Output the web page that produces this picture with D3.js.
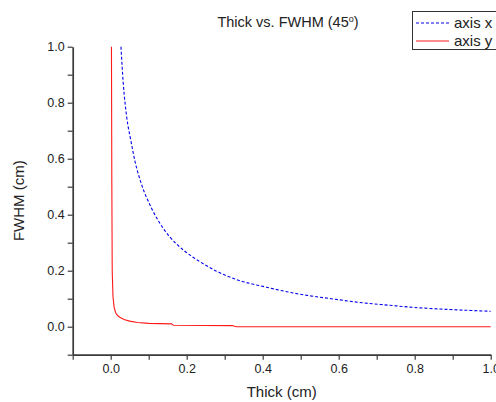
<!DOCTYPE html>
<html><head><meta charset="utf-8">
<script src="https://cdn.jsdelivr.net/npm/d3@7"></script>
<style>body{margin:0;background:#fff;} svg{display:block;font-family:"Liberation Sans",Arial,sans-serif;}</style>
</head><body>
<svg id="c" width="496" height="402"></svg>
<script>
const blueX = [0.027,0.033,0.042,0.053,0.064,0.082,0.105,0.13,0.156,0.191,0.235,0.279,0.332,0.41,0.498,0.58,0.665,0.73,0.796,0.9,1.0];
const blueY = [1.0,0.87,0.75,0.665,0.59,0.505,0.43,0.368,0.32,0.274,0.232,0.198,0.168,0.141,0.116,0.10,0.085,0.077,0.069,0.061,0.055];
const redX = [0.002,0.003,0.004,0.006,0.009,0.013,0.018,0.024,0.035,0.05,0.07,0.1,0.16,0.165,0.32,0.33,1.0];
const redY = [1.0,0.5,0.2,0.107,0.07,0.05,0.04,0.034,0.026,0.02,0.015,0.012,0.01,0.005,0.004,0.0,0.0];
const tickVals = [-0.1,0,0.1,0.2,0.3,0.4,0.5,0.6,0.7,0.8,0.9,1.0];
const labelVals = [0,0.2,0.4,0.6,0.8,1.0];
const seriesNames = ["axis x","axis y"];

const svg = d3.select("#c");
const x = d3.scaleLinear().domain([-0.1,1.0]).range([72.7,490.7]);
const y = d3.scaleLinear().domain([-0.1,1.0]).range([354.7,46.7]);
const fmt = d => labelVals.some(v=>Math.abs(v-d)<1e-9) ? d3.format(".1f")(d) : "";

const xa = svg.append("g").attr("transform",`translate(0,${y(-0.1)})`)
  .call(d3.axisBottom(x).tickValues(tickVals).tickFormat(fmt).tickSize(5).tickSizeOuter(0).tickPadding(4));
const ya = svg.append("g").attr("transform",`translate(${x(-0.1)},0)`)
  .call(d3.axisLeft(y).tickValues(tickVals).tickFormat(fmt).tickSize(5).tickSizeOuter(0).tickPadding(3));
[xa,ya].forEach(g=>{
  g.select(".domain").attr("stroke","#3a3a3a").attr("stroke-width",1.7);
  g.selectAll(".tick line").attr("stroke","#3a3a3a").attr("stroke-width",1.2);
  g.selectAll("text").attr("fill","#222").style("font-size","12.5px").style("font-family","Liberation Sans, Arial, sans-serif");
});

const lineSmooth = d3.line().x(d=>x(d[0])).y(d=>y(d[1])).curve(d3.curveMonotoneX);
const line = d3.line().x(d=>x(d[0])).y(d=>y(d[1]));
svg.append("path").datum(blueX.map((v,i)=>[v,blueY[i]]))
  .attr("d",lineSmooth).attr("fill","none").attr("stroke","#0000ee").attr("stroke-width",1.1).attr("stroke-dasharray","3,2");
svg.append("path").datum(redX.map((v,i)=>[v,redY[i]]))
  .attr("d",line).attr("fill","none").attr("stroke","#ff1a1a").attr("stroke-width",1.1);

// title
const t = svg.append("text").attr("x",288).attr("y",27).attr("text-anchor","middle")
  .style("font-size","14.5px").attr("fill","#222");
t.append("tspan").text("Thick vs. FWHM (45");
t.append("tspan").text("o").attr("dy",-5).style("font-size","9px");
t.append("tspan").text(")").attr("dy",5);

// axis titles
svg.append("text").attr("x",x(0.45)).attr("y",397).attr("text-anchor","middle")
  .style("font-size","15px").attr("fill","#222").text("Thick (cm)");
svg.append("text").attr("transform",`translate(24,${y(0.45)}) rotate(-90)`).attr("text-anchor","middle")
  .style("font-size","15px").attr("fill","#222").text("FWHM (cm)");

// legend
const lg = svg.append("g");
lg.append("rect").attr("x",412.5).attr("y",11.5).attr("width",90).attr("height",38)
  .attr("fill","#fff").attr("stroke","#333").attr("stroke-width",1);
const colors = ["#0000ee","#ff1a1a"], dashes = ["3,2",null];
seriesNames.forEach((n,i)=>{
  const yy = 23 + i*18;
  lg.append("line").attr("x1",416).attr("x2",449).attr("y1",yy).attr("y2",yy)
    .attr("stroke",colors[i]).attr("stroke-width",1.1).attr("stroke-dasharray",dashes[i]);
  lg.append("text").attr("x",454).attr("y",yy+5).style("font-size","15px").attr("fill","#222").text(n);
});
</script>
</body></html>
